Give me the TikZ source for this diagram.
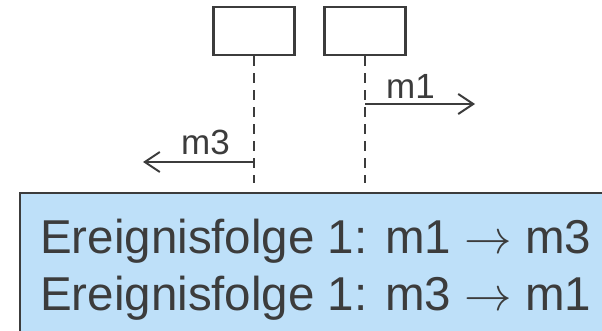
\RequirePackage{fix-cm}
\documentclass[tikz,border=0pt]{standalone}
\usepackage{fontspec}
\setmainfont{Liberation Sans}
\usetikzlibrary{positioning, arrows.meta}
\definecolor{linegray}{HTML}{3C3C3C}
\definecolor{folgeblue}{HTML}{BEE0F9}
\tikzset{
  lifeline/.style={line width=2pt, dash pattern=on 10pt off 7pt},
  msg/.style={line width=2pt, -{Straight Barb[length=15pt, width=20pt, line width=2pt]}},
  msglabel/.style={anchor=base west, inner sep=0pt, font=\fontsize{35}{40}\selectfont},
  folgetext/.style={anchor=base west, inner sep=0pt, font=\fontsize{47.5}{56}\selectfont}
}

\begin{document}
\begin{tikzpicture}[x=1pt, y=1pt, color=linegray]
  \useasboundingbox (0,0) rectangle (602,330);
  \clip (0,0) rectangle (602,330);
  % objects
  \begin{scope}[every node/.style={draw, line width=2.5pt, minimum width=81pt, minimum height=48pt, inner sep=0pt}]
    \node (obj1) at (254, 299) {};
    \node (obj2) at (365, 299) {};
  \end{scope}
  \coordinate (end1) at (254, 147);
  \coordinate (end2) at (365, 147);
  \draw[lifeline] (obj1.south) -- (end1);
  \draw[lifeline] (obj2.south) -- (end2);
  % messages
  \coordinate (m1from) at (365, 226);
  \coordinate (m1to) at (475, 226);
  \coordinate (m3from) at (254, 168);
  \coordinate (m3to) at (143, 168);
  \draw[msg] (m1from) -- (m1to);
  \draw[msg] (m3from) -- (m3to);
  \node (m1) [msglabel] at (386, 232) {m1};
  \node (m3) [msglabel] at (181, 176) {m3};
  % event sequences
  \node (folge) [draw, line width=2pt, fill=folgeblue, anchor=north west,
    minimum width=620pt, minimum height=180pt] at (19, 138) {};
  \node (folge1) [folgetext] at (40, 77) {Ereignisfolge 1: m1 $\rightarrow$ m3};
  \node (folge2) [folgetext] at (40, 20) {Ereignisfolge 1: m3 $\rightarrow$ m1};
\end{tikzpicture}
\end{document}
